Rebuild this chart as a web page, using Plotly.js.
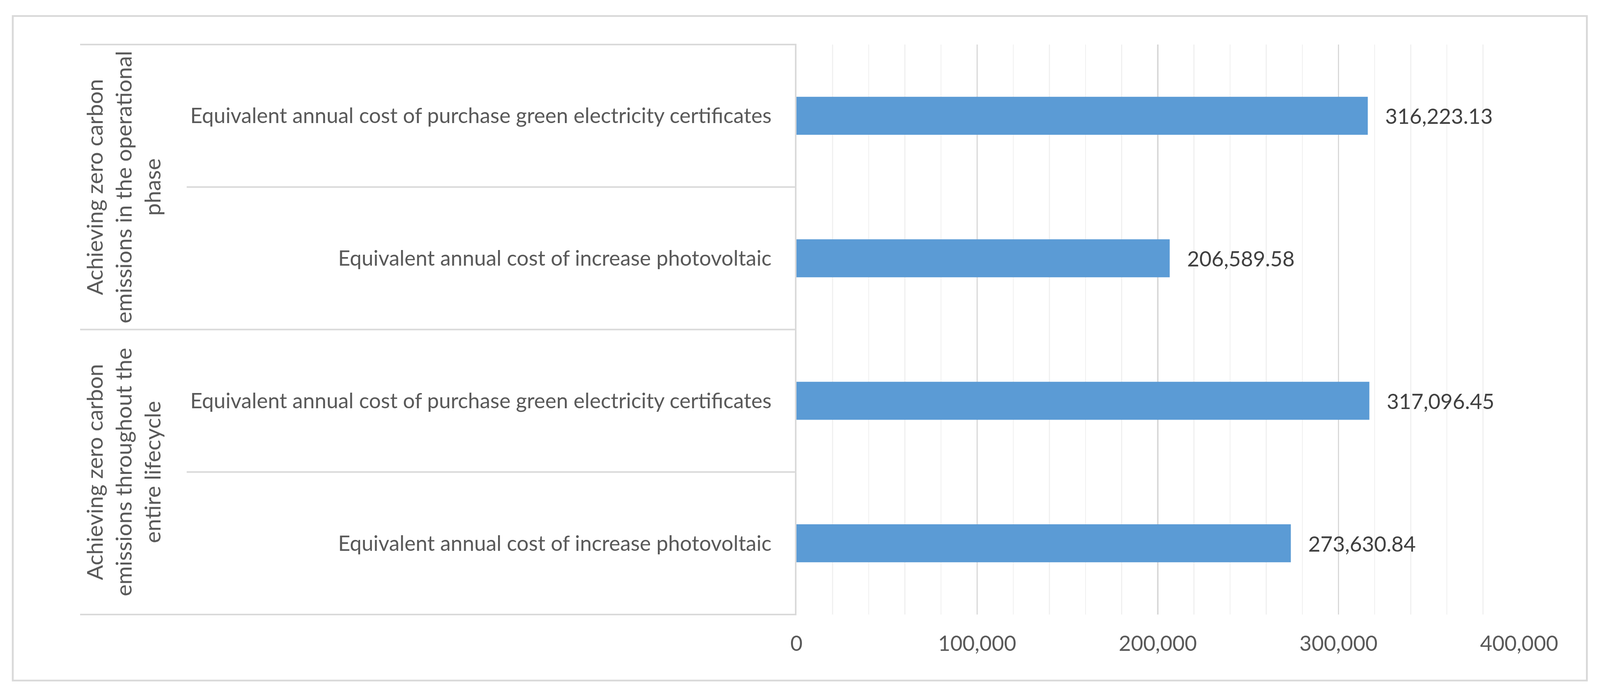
<!DOCTYPE html>
<html><head><meta charset="utf-8">
<script src="https://cdn.plot.ly/plotly-3.0.1.min.js"></script>
<style>html,body{margin:0;padding:0;background:#fff;overflow:hidden}</style>
</head><body><div id="chart"></div>
<script>
// ---- data ----
const groups = [
  "Achieving zero carbon<br>emissions in the operational<br>phase",
  "Achieving zero carbon<br>emissions throughout the<br>entire lifecycle"
];
const categoryGroup = [0, 0, 1, 1];
const categories = [
  "Equivalent annual cost of purchase green electricity certificates",
  "Equivalent annual cost of increase photovoltaic",
  "Equivalent annual cost of purchase green electricity certificates",
  "Equivalent annual cost of increase photovoltaic"
];
const costs = [316223.13, 206589.58, 317096.45, 273630.84];
const xTickVals = [0, 100000, 200000, 300000, 400000];

// ---- layout helpers (reference geometry 4324x1779, scaled to the viewport) ----
const W = window.innerWidth || 4324, H = window.innerHeight || 1779;
const sx = W / 4324, sy = H / 1779;
const L = 2153 * sx, R = 4106 * sx, T = 114 * sy, B = 1573 * sy;
const pw = R - L, ph = B - T;
const px = v => (v * sx - L) / pw;          // reference pixel x -> paper
const py = v => (B - v * sy) / ph;          // reference pixel y -> paper
const n = categories.length;
const idx = categories.map((_, i) => i);
const idxToPaper = i => ((n - 0.5) - i) / n;

const FONT = "Lato, 'Liberation Sans', sans-serif";
const GRAY = "#595959";
const LINE = "#d9d9d9";
const FS = 57 * sx;          // horizontal texts
const FSV = 57 * sy;         // rotated group texts
const sw = Math.min(sx, sy);

const shapes = [];
const outerLeft = px(217), innerLeft = px(505);
shapes.push({type:'line', xref:'paper', yref:'paper', x0:outerLeft, x1:0, y0:idxToPaper(-0.5), y1:idxToPaper(-0.5), line:{color:LINE, width:4*sw}});
shapes.push({type:'line', xref:'paper', yref:'paper', x0:outerLeft, x1:0, y0:idxToPaper(n-0.5), y1:idxToPaper(n-0.5), line:{color:LINE, width:4*sw}});
for (let i = 0; i < n - 1; i++) {
  const yb = idxToPaper(i + 0.5);
  const x0 = categoryGroup[i] !== categoryGroup[i+1] ? outerLeft : innerLeft;
  shapes.push({type:'line', xref:'paper', yref:'paper', x0:x0, x1:0, y0:yb, y1:yb, line:{color:LINE, width:4*sw}});
}
shapes.push({type:'rect', xref:'paper', yref:'paper', x0:px(35), x1:px(4289), y0:py(1742), y1:py(41), line:{color:LINE, width:5*sw}, fillcolor:'rgba(0,0,0,0)'});

const annotations = groups.map((g, gi) => {
  const members = idx.filter(i => categoryGroup[i] === gi);
  const mid = members.reduce((a, b) => a + b, 0) / members.length;
  return {
    xref:'paper', yref:'paper', x:px(333), y:idxToPaper(mid),
    xanchor:'center', yanchor:'middle', text:g, showarrow:false, textangle:-90,
    font:{family:FONT, size:FSV, color:GRAY}, align:'center'
  };
});

const trace = {
  type:'bar', orientation:'h',
  x: costs, y: idx,
  width: 0.266,
  marker:{color:'#5b9bd5', line:{width:0}},
  texttemplate:'\u00a0\u00a0\u00a0%{x:,.2f}',
  textposition:'outside', constraintext:'none', cliponaxis:false,
  textfont:{family:FONT, size:FS, color:'#404040'},
  hoverinfo:'none'
};

const layout = {
  width:W, height:H, autosize:false,
  margin:{l:L, r:W-R, t:T, b:H-B, pad:0},
  paper_bgcolor:'#ffffff', plot_bgcolor:'#ffffff',
  showlegend:false,
  font:{family:FONT, color:GRAY},
  xaxis:{
    range:[0, 400000], tickvals:xTickVals, tickformat:',',
    showgrid:true, gridcolor:LINE, gridwidth:4*sw, zeroline:false, showline:false,
    ticks:'', ticklabelstandoff:38*sy,
    tickfont:{family:FONT, size:FS, color:GRAY},
    minor:{dtick:20000, showgrid:true, gridcolor:'#f0f0f0', gridwidth:3*sw, ticks:''}
  },
  yaxis:{
    range:[n-0.5, -0.5], tickvals:idx, ticktext:categories,
    showgrid:false, zeroline:false, showline:true, linecolor:LINE, linewidth:4*sw,
    ticks:'outside', ticklen:52*sx, tickcolor:'rgba(0,0,0,0)', tickwidth:1,
    tickfont:{family:FONT, size:FS, color:GRAY}
  },
  shapes:shapes, annotations:annotations
};

Plotly.newPlot('chart', [trace], layout, {staticPlot:true, displayModeBar:false});
</script></body></html>
